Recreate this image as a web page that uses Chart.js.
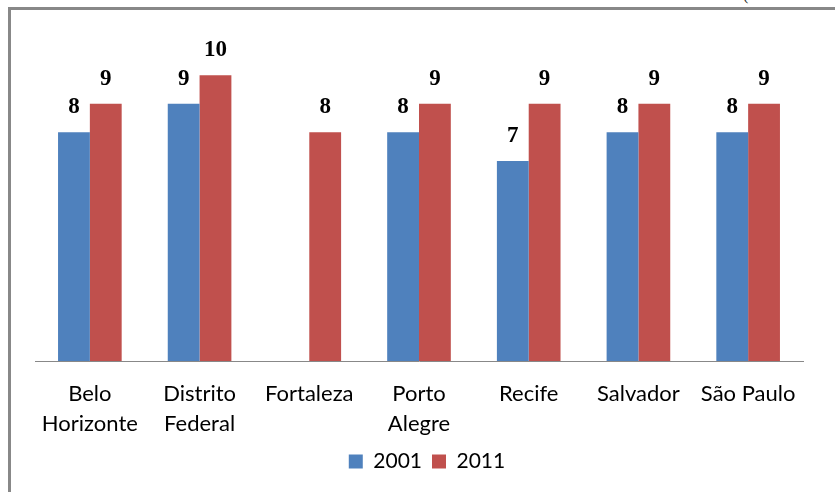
<!DOCTYPE html>
<html>
<head>
<meta charset="utf-8">
<script src="https://cdn.jsdelivr.net/npm/chart.js@4.4.1/dist/chart.umd.min.js"></script>
<style>
  html, body { margin: 0; padding: 0; background: #fff; }
  #wrap { position: relative; width: 835px; height: 492px; overflow: hidden; }
  #frame { position: absolute; left: 8px; top: 7px; width: 900px; height: 600px;
           border-left: 3px solid #888; border-top: 3px solid #888; box-sizing: border-box; }
  #paren { position: absolute; left: 743px; top: -14px; font: 16px "Liberation Serif"; color: #222; }
  canvas { position: absolute; left: 0; top: 0; }
</style>
</head>
<body>
<div id="wrap">
  <div id="frame"></div>
  <div id="paren">(</div>
  <canvas id="c" width="835" height="492"></canvas>
</div>
<script>
const categories = [["Belo", "Horizonte"], ["Distrito", "Federal"], "Fortaleza", ["Porto", "Alegre"], "Recife", "Salvador", "São Paulo"];
const seriesNames = ["2001", "2011"];
const values2001 = [8, 9, null, 8, 7, 8, 8];
const values2011 = [9, 10, 8, 9, 9, 9, 9];

const labelPlugin = {
  id: 'barLabels',
  afterLayout(chart) {
    if (chart.legend) { chart.legend.left += 8; chart.legend.right += 8; }
  },
  afterDatasetsDraw(chart) {
    const ctx = chart.ctx;
    ctx.save();
    ctx.font = 'bold 23px "Liberation Serif"';
    ctx.fillStyle = '#000';
    ctx.textAlign = 'center';
    ctx.textBaseline = 'alphabetic';
    chart.data.datasets.forEach((ds, i) => {
      const meta = chart.getDatasetMeta(i);
      meta.data.forEach((bar, j) => {
        const v = ds.data[j];
        if (v === null || v === undefined) return;
        ctx.fillText(String(v), bar.x, bar.y - 19);
      });
    });
    ctx.restore();
  }
};

new Chart(document.getElementById('c'), {
  type: 'bar',
  data: {
    labels: categories,
    datasets: [
      { label: seriesNames[0], data: values2001, backgroundColor: '#4F81BD' },
      { label: seriesNames[1], data: values2011, backgroundColor: '#C0504D' }
    ]
  },
  options: {
    responsive: false,
    animation: false,
    devicePixelRatio: 1,
    layout: { padding: { left: 35, right: 32, top: 18, bottom: 10 } },
    datasets: { bar: { categoryPercentage: 0.58, barPercentage: 1.0 } },
    scales: {
      x: {
        grid: { display: false, drawTicks: false },
        border: { display: true, color: '#888', width: 1 },
        ticks: {
          color: '#000', autoSkip: false, maxRotation: 0, minRotation: 0, padding: 18,
          font: { family: 'Lato', size: 22, lineHeight: '30px' }
        },
        afterFit(scale) { scale.height = 80; }
      },
      y: { display: false, min: 0, max: 12 }
    },
    plugins: {
      legend: {
        position: 'bottom',
        labels: {
          color: '#000', boxWidth: 14, boxHeight: 14, padding: 10,
          font: { family: 'Lato', size: 21 }
        }
      },
      tooltip: { enabled: false }
    }
  },
  plugins: [labelPlugin]
});
</script>
</body>
</html>
